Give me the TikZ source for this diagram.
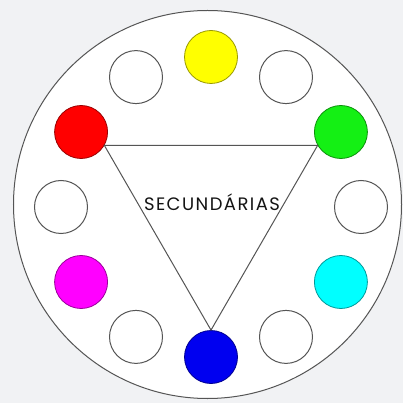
\documentclass[tikz,border=0pt]{standalone}
\usepackage{fontspec}
\usepackage{tikz}
\usepackage{xcolor}
\usetikzlibrary{positioning,calc}
\newfontfamily\labelfont[LetterSpace=8]{Poppins}
\definecolor{pagegray} {HTML}{F1F2F4}
\definecolor{wheelline}{HTML}{555555}
\definecolor{cyellow}  {HTML}{FFFF00}
\definecolor{cred}     {HTML}{FF0000}
\definecolor{cgreen}   {HTML}{14F014}
\definecolor{ccyan}    {HTML}{00FFFF}
\definecolor{cblue}    {HTML}{0000F0}
\definecolor{cmagenta} {HTML}{FF00FF}
\tikzset{
  wheel/.style     ={draw=wheelline, fill=white, line width=1pt},
  emptydot/.style  ={circle, draw=wheelline, fill=white, line width=1pt,
                     minimum size=53pt, inner sep=0pt},
  colordot/.style  ={circle, draw=#1!60!black, fill=#1, line width=0.8pt,
                     minimum size=53pt, inner sep=0pt},
  trianglelink/.style={draw=wheelline, line width=1pt},
  wheeltext/.style ={font=\labelfont\fontsize{18}{20}\selectfont, text=black!92,
                     anchor=base, inner sep=0pt},
}

\begin{document}
\begin{tikzpicture}[x=1pt,y=1pt]
    \useasboundingbox[fill=pagegray] (-211,-196) rectangle (192,207);
    \draw[wheel] (-3.5,2.5) circle[radius=194];

    \node[colordot=cyellow]  (yellow)  at (90:150)  {};
    \node[emptydot]          (w60)     at (60:150)  {};
    \node[colordot=cgreen]   (green)   at (30:150)  {};
    \node[emptydot]          (w0)      at (0:150)   {};
    \node[colordot=ccyan]    (cyan)    at (-30:150) {};
    \node[emptydot]          (w300)    at (-60:150) {};
    \node[colordot=cblue]    (blue)    at (-90:150) {};
    \node[emptydot]          (w240)    at (240:150) {};
    \node[colordot=cmagenta] (magenta) at (210:150) {};
    \node[emptydot]          (w180)    at (180:150) {};
    \node[colordot=cred]     (red)     at (150:150) {};
    \node[emptydot]          (w120)    at (120:150) {};

    \draw[trianglelink] (red.-30) -- (green.210) -- (blue.90) -- cycle;

    \node[wheeltext] (secondary) at (1,-3.3) {SECUNDÁRIAS};
  \end{tikzpicture}
\end{document}
